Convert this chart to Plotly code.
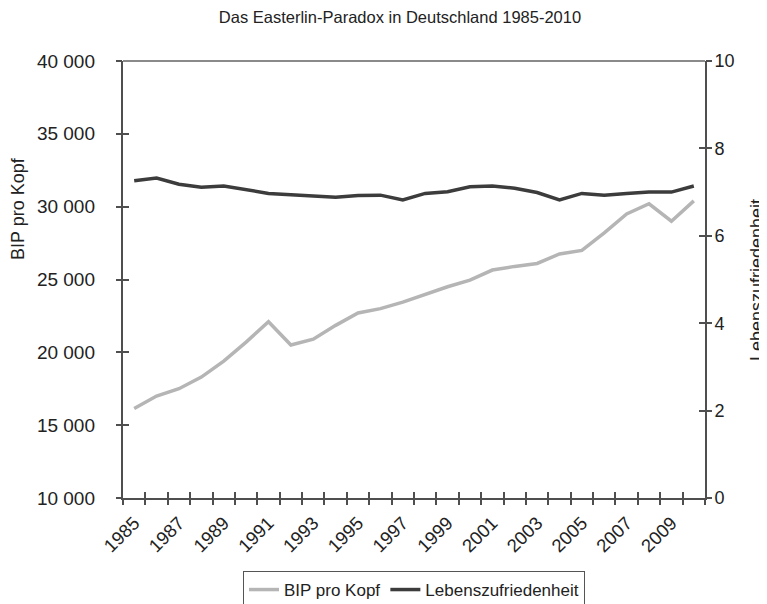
import plotly.graph_objects as go

years = [str(y) for y in range(1985, 2011)]
bip = [16150, 17000, 17500, 18300, 19400, 20700, 22100, 20500, 20900, 21850,
       22700, 23000, 23450, 24000, 24500, 24960, 25650, 25900, 26100, 26750,
       27000, 28200, 29500, 30200, 29000, 30400]
leben = [7.26, 7.32, 7.18, 7.11, 7.14, 7.06, 6.97, 6.94, 6.91, 6.88,
         6.92, 6.93, 6.82, 6.97, 7.01, 7.12, 7.14, 7.09, 6.99, 6.82,
         6.97, 6.93, 6.97, 7.0, 7.0, 7.14]
tick_text = [y if (int(y) - 1985) % 2 == 0 else "" for y in years]
boundaries = [i - 0.5 for i in range(len(years) + 1)]

font = "Liberation Sans, Arial, sans-serif"
axis_col = "#4f4f4f"
clear = "rgba(0,0,0,0)"
vis_tick = dict(ticklen=6, tickcolor=axis_col, tickwidth=1.5, showticklabels=False,
                showgrid=False, zeroline=False, showline=False, automargin=False)

# the page body has an 8px margin, so the figure is 8px smaller than the window
W, H, OFF = 759, 596, 8
PL, PR, AX_L = 95, 705, 123          # page x of paper left, plot right, left axis line
PW = PR - PL
px = lambda x: (x - PL) / PW          # page x -> paper fraction
py = lambda y: (498 - y) / 437        # page y -> paper fraction

fig = go.Figure()
fig.add_trace(go.Scatter(x=years, y=bip, name="BIP pro Kopf", mode="lines",
                         line=dict(color="#b5b5b5", width=3.5)))
fig.add_trace(go.Scatter(x=years, y=leben, name="Lebenszufriedenheit", mode="lines",
                         line=dict(color="#3c3c3c", width=3.5), yaxis="y2"))
# empty helper traces: overlay axes for crossing tick marks and the left tick labels
for xa, ya in [("x2", "y3"), ("x2", "y4"), ("x3", "y5"), ("x3", "y6"), ("x", "y7")]:
    fig.add_trace(go.Scatter(x=[], y=[], xaxis=xa, yaxis=ya, showlegend=False,
                             hoverinfo="skip"))

dom = [px(AX_L), 1]
fig.update_layout(
    width=W, height=H,
    margin=dict(l=PL - OFF, r=767 - PR, t=61 - OFF, b=106, autoexpand=False),
    paper_bgcolor="white", plot_bgcolor="rgba(0,0,0,0)",
    separators=". ",
    font=dict(family=font, size=17, color="#222"),
    title=dict(text="Das Easterlin-Paradox in Deutschland 1985-2010", x=(400 - OFF) / W,
               xanchor="center", y=1 - (17 - OFF) / H, yanchor="middle",
               font=dict(size=16.5)),
    xaxis=dict(type="category", tickvals=years, ticktext=tick_text, domain=dom,
               tickangle=-45, showgrid=False, showline=True, linecolor=axis_col, linewidth=2,
               ticks="outside", ticklen=5, tickcolor=clear, automargin=False,
               tickfont=dict(size=18.5), range=[-0.5, 25.5]),
    yaxis=dict(range=[10000, 40000], dtick=5000, showgrid=False, showticklabels=False,
               showline=True, linecolor=axis_col, linewidth=2, ticks="",
               zeroline=False, automargin=False),
    yaxis7=dict(range=[10000, 40000], dtick=5000, tickformat=",d", overlaying="y",
                side="left", anchor="free", position=0, showline=False, ticks="",
                showgrid=False, zeroline=False, automargin=False, tickfont=dict(size=19)),
    yaxis2=dict(range=[0, 10], dtick=2, overlaying="y", side="right", showgrid=False,
                showline=True, linecolor=axis_col, linewidth=2, ticks="outside", ticklen=4,
                tickcolor=clear, zeroline=False, automargin=False, tickfont=dict(size=18)),
    # visible crossing tick marks
    xaxis2=dict(overlaying="x", range=[-0.5, 25.5], tickvals=boundaries, ticks="inside",
                **vis_tick),
    xaxis3=dict(overlaying="x", range=[-0.5, 25.5], tickvals=boundaries, ticks="outside",
                **vis_tick),
    yaxis3=dict(range=[10000, 40000], dtick=5000, overlaying="y", side="left",
                ticks="inside", **vis_tick),
    yaxis4=dict(range=[0, 10], dtick=2, overlaying="y", side="right",
                ticks="inside", **vis_tick),
    yaxis5=dict(range=[10000, 40000], dtick=5000, overlaying="y", side="left",
                ticks="outside", **vis_tick),
    yaxis6=dict(range=[0, 10], dtick=2, overlaying="y", side="right",
                ticks="outside", **vis_tick),
    legend=dict(orientation="h", x=px(414), xanchor="center", y=py(571), yanchor="top",
                bordercolor="#555", borderwidth=1, font=dict(size=17),
                itemwidth=30, traceorder="normal"),
    annotations=[
        dict(text="BIP pro Kopf", xref="paper", yref="paper", x=px(18), y=py(208),
             textangle=-90, showarrow=False, font=dict(size=18),
             xanchor="center", yanchor="middle"),
        dict(text="Lebenszufriedenheit", xref="paper", yref="paper", x=px(757), y=py(280),
             textangle=-90, showarrow=False, font=dict(size=18),
             xanchor="center", yanchor="middle"),
    ],
    shapes=[dict(type="line", xref="paper", yref="paper", x0=px(AX_L), x1=1, y0=1, y1=1,
                 line=dict(color="#8a8a8a", width=2))],
)

fig.write_html("out.html")
